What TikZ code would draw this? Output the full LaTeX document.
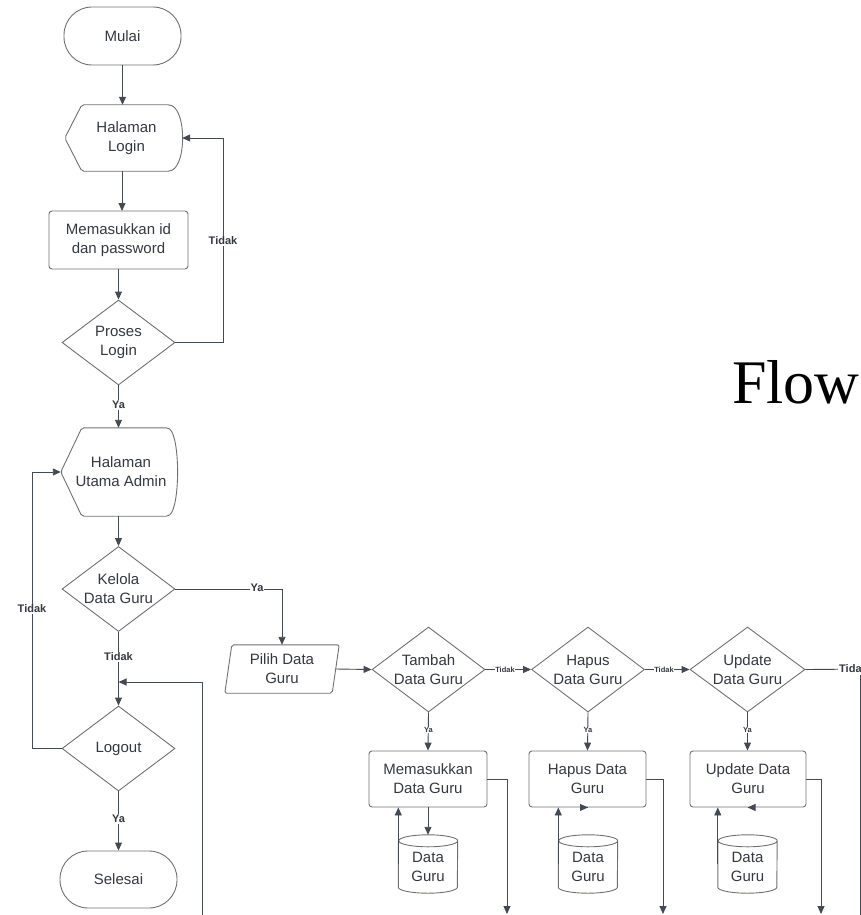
\documentclass[tikz,border=0pt]{standalone}
\usepackage{fontspec}
\setmainfont{Liberation Sans}
\newfontfamily\flowserif{Liberation Serif}
\usetikzlibrary{shapes.geometric,arrows.meta,calc}
\definecolor{txt}{HTML}{333840}
\definecolor{ln}{HTML}{444A53}
\definecolor{bd}{HTML}{707070}
\newcommand{\dbcyl}[1]{\draw[shp] ([yshift=-6pt]#1.north west) -- ([yshift=6pt]#1.south west) arc[start angle=180,end angle=360,x radius=29.5pt,y radius=6pt] -- ([yshift=-6pt]#1.north east) arc[start angle=0,end angle=360,x radius=29.5pt,y radius=6pt];}
\begin{document}
\begin{tikzpicture}[x=1pt,y=1pt,
 every node/.style={text=txt,font=\fontsize{15}{19}\selectfont,align=center},
 shp/.style={draw=bd,line width=0.9pt},
 box/.style={shp,rectangle,rounded corners=3pt,inner sep=0pt},
 term/.style={shp,rectangle,rounded corners=28pt,inner sep=0pt},
 dia/.style={shp,diamond,aspect=1.33,inner sep=0pt,minimum width=113pt,minimum height=85pt},
 ghost/.style={rectangle,inner sep=0pt},
 con/.style={draw=ln,line width=0.9pt,-{Triangle[length=8pt,width=7pt]}},
 plain/.style={draw=ln,line width=0.9pt},
 lbl/.style={fill=white,inner sep=1pt,font=\bfseries\fontsize{11}{13}\selectfont},
 slbl/.style={fill=white,inner sep=0.6pt,font=\bfseries\fontsize{7.5}{9}\selectfont},
]
\useasboundingbox (0,0) rectangle (861,-915);
\clip (0,0) rectangle (861,-915);

% title (cut by the border)
\node[anchor=base west,font=\flowserif\fontsize{62}{70}\selectfont,text=black,inner sep=0pt] (title) at (732,-403) {Flow};

% left column
\node[term,minimum width=117pt,minimum height=58pt] (mulai) at (122.5,-36) {Mulai};
\node[ghost,minimum width=117pt,minimum height=66pt] (hl) at (123.5,-138) {\hspace*{6pt}Halaman\\\hspace*{6pt}Login};
\draw[shp,rounded corners=2pt] (hl.west) -- ([xshift=17pt]hl.north west) -- ([xshift=-12pt]hl.north east)
  .. controls ($(hl.north east)+(4,-8)$) and ($(hl.south east)+(4,8)$) .. ([xshift=-12pt]hl.south east)
  -- ([xshift=17pt]hl.south west) -- cycle;
\node[box,minimum width=139pt,minimum height=58pt] (mem1) at (118.5,-240) {Memasukkan id\\dan password};
\node[dia] (proses) at (118.5,-342.5) {Proses\\Login};
\node[ghost,minimum width=116pt,minimum height=88pt] (hua) at (119,-472) {\hspace*{4pt}Halaman\\\hspace*{4pt}Utama Admin};
\draw[shp,rounded corners=2pt] (hua.west) -- ([xshift=21pt]hua.north west) -- ([xshift=-9pt]hua.north east)
  .. controls ($(hua.north east)+(3,-10)$) and ($(hua.south east)+(3,10)$) .. ([xshift=-9pt]hua.south east)
  -- ([xshift=21pt]hua.south west) -- cycle;
\node[dia] (kelola) at (118.5,-589) {Kelola\\Data Guru};
\node[dia] (logout) at (118.5,-748.5) {Logout};
\node[term,minimum width=117pt,minimum height=57pt] (selesai) at (118.5,-879.5) {Selesai};

% right part
\node[ghost,minimum width=114pt,minimum height=48pt] (pilih) at (282,-669) {Pilih Data\\Guru};
\draw[shp,rounded corners=2pt] ([xshift=7pt]pilih.north west) -- (pilih.north east) -- ([xshift=-7pt]pilih.south east) -- (pilih.south west) -- cycle;

\node[dia] (tambah) at (428.5,-669.5) {Tambah\\Data Guru};
\node[dia] (hapus) at (588,-669.5) {Hapus\\Data Guru};
\node[dia,minimum width=115pt] (update) at (747.5,-669.5) {Update\\Data Guru};

\node[box,minimum width=118pt,minimum height=56pt] (mem2) at (428,-779) {Memasukkan\\Data Guru};
\node[box,minimum width=117pt,minimum height=56pt] (hapusd) at (587.5,-779) {Hapus Data\\Guru};
\node[box,minimum width=116pt,minimum height=56pt] (upd) at (748,-779) {Update Data\\Guru};

\node[ghost,minimum width=59pt,minimum height=58pt] (db1) at (428,-864) {\\[-3pt]Data\\Guru};
\node[ghost,minimum width=59pt,minimum height=58pt] (db2) at (588,-864) {\\[-3pt]Data\\Guru};
\node[ghost,minimum width=59pt,minimum height=58pt] (db3) at (747.5,-864) {\\[-3pt]Data\\Guru};
\dbcyl{db1}
\dbcyl{db2}
\dbcyl{db3}

% free ends
\coordinate (bl) at (202,-920);
\coordinate (e1) at (507,-914);
\coordinate (e2) at (663,-914);
\coordinate (e3) at (821,-914);
\coordinate (rt) at (875,-669);
\coordinate (rv1) at (860,-675);
\coordinate (rv2) at (860,-920);

% connectors
\draw[con] (mulai.south) -- (mulai.south |- hl.north);
\draw[con] (122,-171) -- (122,-211);
\draw[con] (mem1.south) -- (proses.north);
\draw[con] (proses.east) -- (223,-342.5) -- (223,-138) -- (hl.east);
\draw[con] (proses.south) -- (proses.south |- hua.north);
\draw[con] (proses.south |- hua.south) -- (kelola.north);
\draw[con] (kelola.east) -- (kelola.east -| pilih.north) -- (pilih.north);
\draw[con] (kelola.south) -- (logout.north);
\draw[con] (bl) -- (202,-682) -- (118.5,-682);
\draw[con] (logout.west) -- (32,-748.5) -- (32,-472) -- (hua.west);
\draw[con] (logout.south) -- (selesai.north);

\draw[con] ([xshift=-3.5pt]pilih.east) -- (tambah.west);
\draw[con] (tambah.east) -- (hapus.west);
\draw[con] (hapus.east) -- (update.west);
\draw[plain] (update.east) -- (rt);
\draw[plain] (rv1) -- (rv2);

\draw[con] (tambah.south) -- (mem2.north);
\draw[con] (hapus.south) -- (hapusd.north);
\draw[con] (update.south) -- (update.south |- upd.north);

\draw[con] (mem2.south) -- (db1.north);
\draw[con] (hapusd.south) -- (hapusd.south -| db2.north);
\draw[con] (upd.south) -- (upd.south -| db3.north);

\draw[con] (db1.west) -- (db1.west |- mem2.south);
\draw[con] (db2.west) -- (db2.west |- hapusd.south);
\draw[con] (db3.west) -- (db3.west |- upd.south);

\draw[con] (mem2.east) -- (mem2.east -| e1) -- (e1);
\draw[con] (hapusd.east) -- (hapusd.east -| e2) -- (e2);
\draw[con] (upd.east) -- (upd.east -| e3) -- (e3);

% labels
\node[lbl] (t1) at (223,-241) {Tidak};
\node[lbl] (y1) at (118.5,-405) {Ya};
\node[lbl] (y2) at (257,-588) {Ya};
\node[lbl] (t2) at (118.5,-657) {Tidak};
\node[lbl] (t3) at (32,-609) {Tidak};
\node[lbl] (y3) at (118.5,-819) {Ya};
\node[slbl] (t4) at (505,-669.5) {Tidak};
\node[slbl] (t5) at (664,-669.5) {Tidak};
\node[lbl,anchor=west] (t6) at (838,-669) {Tidak};
\node[slbl] (y4) at (428.5,-730) {Ya};
\node[slbl] (y5) at (588,-730) {Ya};
\node[slbl] (y6) at (747.5,-730) {Ya};
\end{tikzpicture}
\end{document}
